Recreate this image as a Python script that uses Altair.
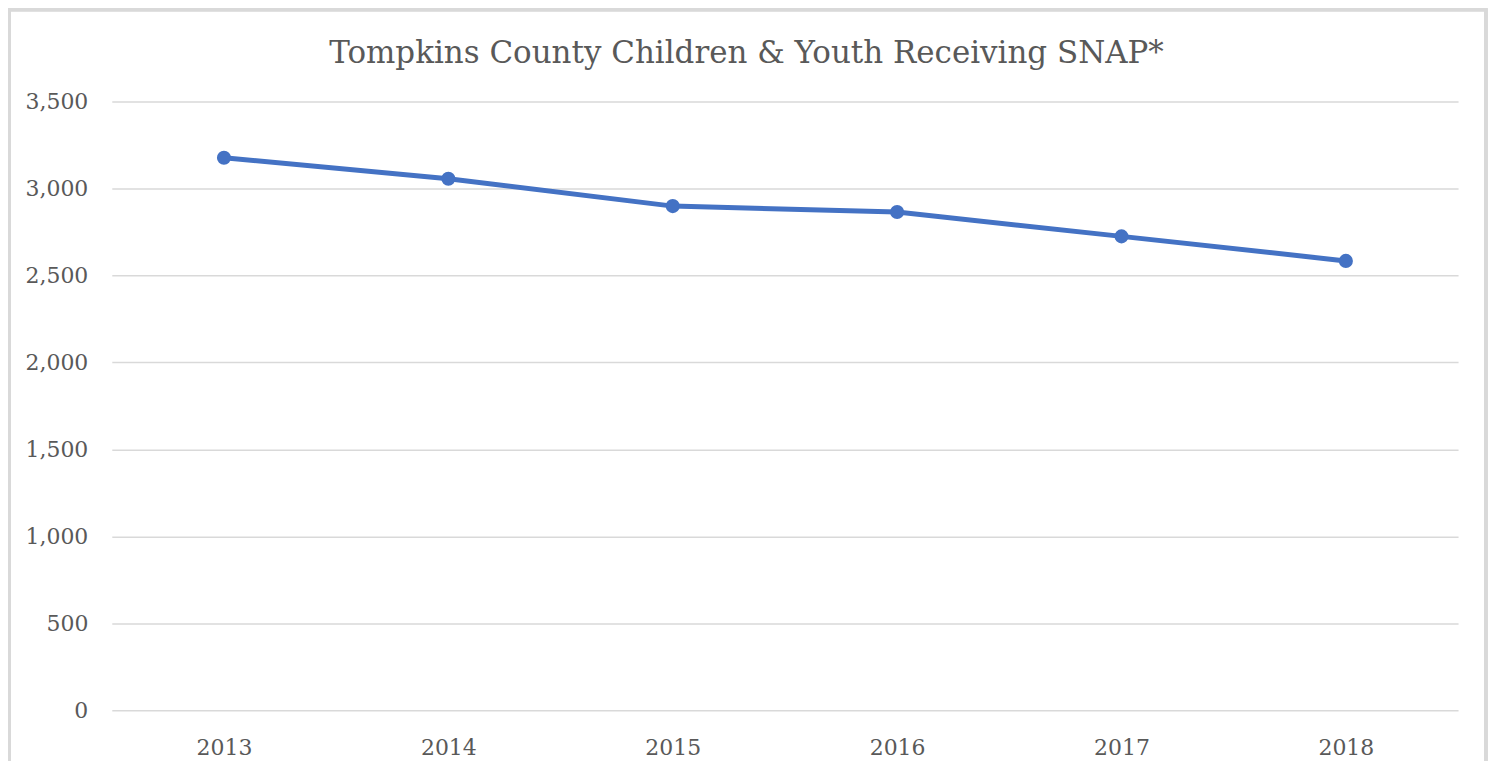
import altair as alt
import pandas as pd

years = ["2013", "2014", "2015", "2016", "2017", "2018"]
values = [3177, 3056, 2899, 2865, 2725, 2584]
y_ticks = [0, 500, 1000, 1500, 2000, 2500, 3000, 3500]
title_text = "Tompkins County Children & Youth Receiving SNAP*"

df = pd.DataFrame({"year": years, "value": values})

W, H = 1349, 610
FONT = "DejaVu Serif"
TXT = "#595959"
GRID = "#D9D9D9"

base = alt.Chart(df).encode(
    x=alt.X("year:N", sort=years, title=None,
            scale=alt.Scale(paddingInner=0, paddingOuter=0),
            axis=alt.Axis(labelAngle=0, ticks=False, domain=False, grid=False,
                          labelFont=FONT, labelFontSize=22, labelColor=TXT,
                          labelPadding=27)),
    y=alt.Y("value:Q", title=None,
            scale=alt.Scale(domain=[0, 3500], nice=False),
            axis=alt.Axis(values=y_ticks, format=",.0f", ticks=False, domain=False,
                          gridColor=GRID, gridWidth=1.5,
                          labelFont=FONT, labelFontSize=22, labelColor=TXT,
                          labelPadding=24)),
)

line = base.mark_line(color="#4472C4", strokeWidth=5)
pts = base.mark_circle(color="#4472C4", size=200, opacity=1)

border = alt.Chart(df).mark_rect(fill=None, stroke=GRID, strokeWidth=3).encode(
    x=alt.value(-103), x2=alt.value(W + 28),
    y=alt.value(-92), y2=alt.value(H + 80),
)

title = alt.Chart(pd.DataFrame({"t": [title_text]})).mark_text(
    font=FONT, fontSize=31, color=TXT, align="center", baseline="alphabetic"
).encode(text="t:N", x=alt.value(636), y=alt.value(-39))

chart = alt.layer(border, line, pts, title).properties(
    width=W, height=H,
    background="white",
    autosize=alt.AutoSizeParams(type="none"),
    padding={"left": 104, "top": 93, "right": 30, "bottom": 50},
).configure_view(stroke=None)

chart.save("out.html", embed_options={"renderer": "svg", "actions": False})
